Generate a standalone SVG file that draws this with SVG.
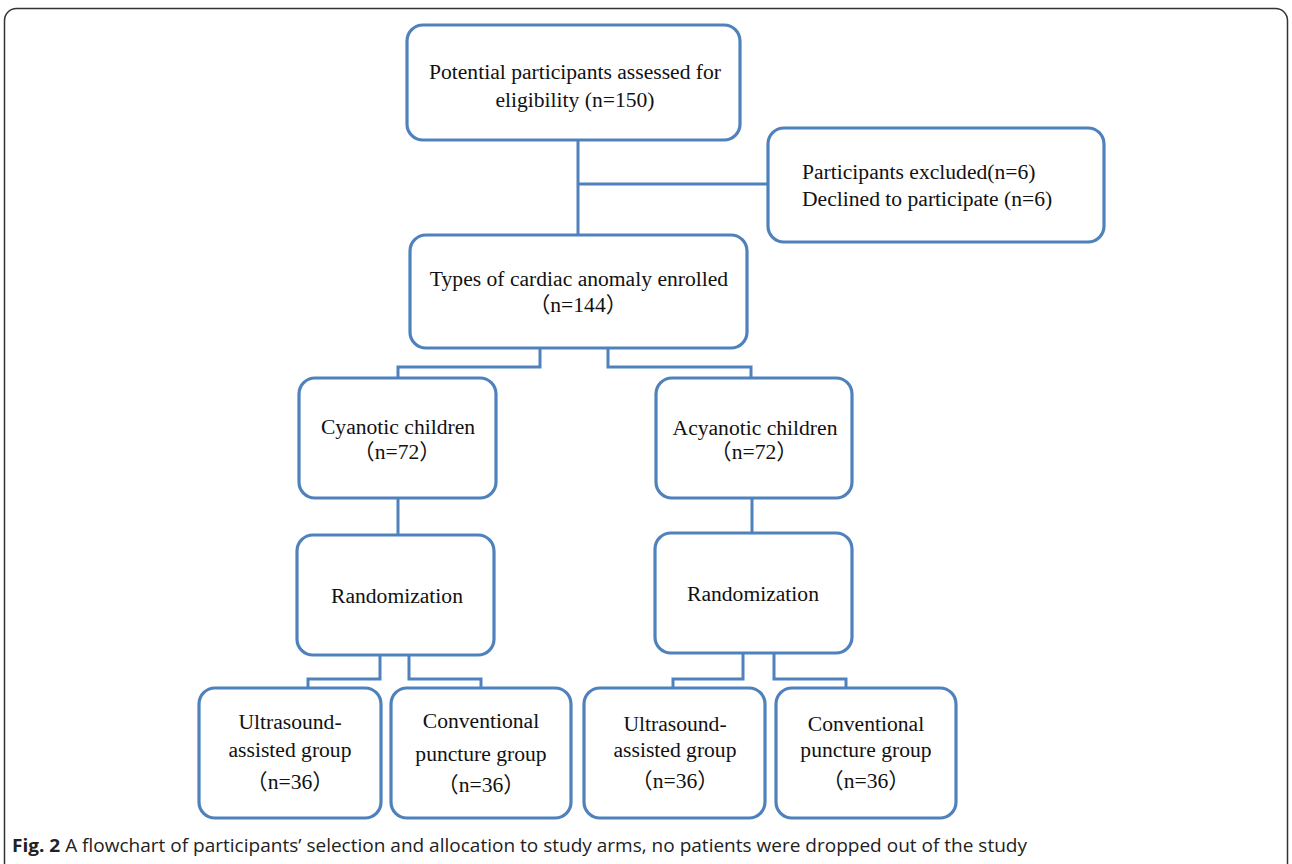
<svg xmlns="http://www.w3.org/2000/svg" width="1292" height="864" viewBox="0 0 1292 864">
<style>
.box{fill:#fff;stroke:#4f81bd;stroke-width:3.2}
.ln{fill:none;stroke:#4f81bd;stroke-width:3}
.t{font-family:"Liberation Serif","Times New Roman","Noto Sans CJK SC",serif;font-size:21.6px;fill:#111;text-anchor:middle}
.tl{font-family:"Liberation Serif","Times New Roman",serif;font-size:21.6px;fill:#111}
.cap{font-family:"Open Sans","Liberation Sans",sans-serif;font-size:18px;fill:#222}
</style>
<rect x="4.5" y="8.5" width="1283" height="880" rx="12" fill="#fff" stroke="#333" stroke-width="1.5"/>
<g id="connectors">
<path class="ln" d="M578 140V235"/>
<path class="ln" d="M578 184H768"/>
<path class="ln" d="M540 348V367H398V378"/>
<path class="ln" d="M608 348V367H751V378"/>
<path class="ln" d="M398 498V535"/>
<path class="ln" d="M752 498V533"/>
<path class="ln" d="M380 655V679H308V688"/>
<path class="ln" d="M409 655V679H481V688"/>
<path class="ln" d="M743 653V679H673V688"/>
<path class="ln" d="M774 653V679H846V688"/>
</g>
<g id="n1"><rect class="box" x="407" y="25" width="333" height="115" rx="16"/>
<text class="t" x="575" y="79">Potential participants assessed for</text>
<text class="t" x="575" y="107">eligibility (n=150)</text></g>
<g id="n2"><rect class="box" x="768" y="128" width="336" height="114" rx="16"/>
<text class="tl" x="802" y="179">Participants excluded(n=6)</text>
<text class="tl" x="802" y="206">Declined to participate (n=6)</text></g>
<g id="n3"><rect class="box" x="410" y="235" width="337" height="113" rx="16"/>
<text class="t" x="579" y="286">Types of cardiac anomaly enrolled</text>
<text class="t" x="578" y="312">（n=144）</text></g>
<g id="n4"><rect class="box" x="299" y="378" width="197" height="120" rx="16"/>
<text class="t" x="398" y="434">Cyanotic children</text>
<text class="t" x="397" y="459">（n=72）</text></g>
<g id="n5"><rect class="box" x="656" y="378" width="196" height="120" rx="16"/>
<text class="t" x="755" y="435">Acyanotic children</text>
<text class="t" x="754" y="459">（n=72）</text></g>
<g id="n6"><rect class="box" x="297" y="535" width="197" height="120" rx="16"/>
<text class="t" x="397" y="603">Randomization</text></g>
<g id="n7"><rect class="box" x="655" y="533" width="197" height="120" rx="16"/>
<text class="t" x="753" y="601">Randomization</text></g>
<g id="n8"><rect class="box" x="199" y="688" width="182" height="130" rx="16"/>
<text class="t" x="290" y="729">Ultrasound-</text>
<text class="t" x="290" y="757">assisted group</text>
<text class="t" x="290" y="789">（n=36）</text></g>
<g id="n9"><rect class="box" x="391" y="688" width="180" height="130" rx="16"/>
<text class="t" x="481" y="728">Conventional</text>
<text class="t" x="481" y="761">puncture group</text>
<text class="t" x="481" y="792">（n=36）</text></g>
<g id="n10"><rect class="box" x="584" y="688" width="181" height="130" rx="16"/>
<text class="t" x="675" y="731">Ultrasound-</text>
<text class="t" x="675" y="757">assisted group</text>
<text class="t" x="675" y="788">（n=36）</text></g>
<g id="n11"><rect class="box" x="776" y="688" width="180" height="130" rx="16"/>
<text class="t" x="866" y="731">Conventional</text>
<text class="t" x="866" y="757">puncture group</text>
<text class="t" x="866" y="788">（n=36）</text></g>
<text class="cap" x="12" y="852" textLength="1015" lengthAdjust="spacingAndGlyphs"><tspan font-weight="bold">Fig. 2</tspan> A flowchart of participants’ selection and allocation to study arms, no patients were dropped out of the study</text>
</svg>
